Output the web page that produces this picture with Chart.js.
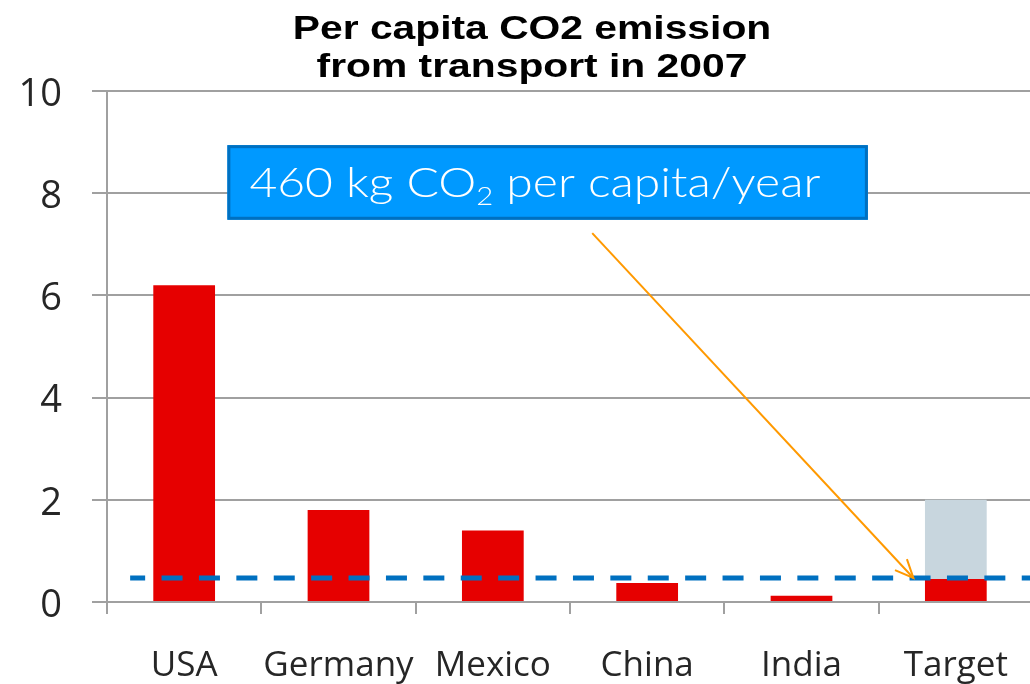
<!DOCTYPE html>
<html><head><meta charset="utf-8">
<script src="https://cdn.jsdelivr.net/npm/chart.js@4/dist/chart.umd.min.js"></script>
<style>
html,body{margin:0;padding:0;background:#fff;overflow:hidden;width:1030px;height:684px}
#wrap{position:absolute;left:0;top:0;width:1040px;height:684px}
</style></head>
<body><div id="wrap"><canvas id="c"></canvas></div>
<script>
// ---- data ----
const titleLines = ["Per capita CO2 emission", "from transport in 2007"];
const categories = ["USA", "Germany", "Mexico", "China", "India", "Target"];
const emissions = [6.2, 1.8, 1.4, 0.37, 0.12, 0.45];
const targetGap = [0, 0, 0, 0, 0, 1.55];
const targetLevel = 0.47;
const yTicks = [0, 2, 4, 6, 8, 10];
const noteParts = ["460 kg CO", "2", " per capita/year"];

// ---- annotation anchors (category index, value) ----
const noteBox = {x0: 0.28, x1: 4.43, yTop: 8.94, yBottom: 7.48};
const arrowFrom = [2.644, 7.22];
const arrowTo = [4.725, targetLevel];
const dashStartIndex = -0.35;

const overlay = {
  id: 'overlay',
  afterDatasetsDraw(chart) {
    const {ctx, chartArea, scales: {x, y}} = chart;
    ctx.save();
    // dashed target line
    const ly = y.getPixelForValue(targetLevel);
    ctx.beginPath();
    ctx.strokeStyle = '#0070C0';
    ctx.lineWidth = 5;
    ctx.setLineDash([21, 16.4]);
    ctx.lineDashOffset = 6;
    ctx.moveTo(x.getPixelForValue(dashStartIndex), ly);
    ctx.lineTo(chartArea.right + 10, ly);
    ctx.stroke();
    ctx.setLineDash([]);

    // note box
    const bx0 = x.getPixelForValue(noteBox.x0), bx1 = x.getPixelForValue(noteBox.x1);
    const by0 = y.getPixelForValue(noteBox.yTop), by1 = y.getPixelForValue(noteBox.yBottom);
    ctx.fillStyle = '#0099FF';
    ctx.fillRect(bx0, by0, bx1 - bx0, by1 - by0);
    ctx.strokeStyle = '#0070C0';
    ctx.lineWidth = 3;
    ctx.strokeRect(bx0 + 1.5, by0 + 1.5, bx1 - bx0 - 3, by1 - by0 - 3);
    // note text
    const fs = 41;
    const big = `300 ${fs}px Lato`, small = `300 ${Math.round(fs*0.6)}px Lato`;
    ctx.font = big; const w0 = ctx.measureText(noteParts[0]).width;
    const w2 = ctx.measureText(noteParts[2]).width;
    ctx.font = small; const w1 = ctx.measureText(noteParts[1]).width;
    const total = w0 + w1 + w2;
    const targetW = 571;
    const sx = targetW / total;
    const tx = bx0 + 22, base = by0 + 52;
    ctx.translate(tx, base);
    ctx.scale(sx, 1);
    ctx.fillStyle = '#ffffff';
    ctx.textBaseline = 'alphabetic';
    ctx.textAlign = 'left';
    ctx.font = big; ctx.fillText(noteParts[0], 0, 0);
    ctx.font = small; ctx.fillText(noteParts[1], w0, 8);
    ctx.font = big; ctx.fillText(noteParts[2], w0 + w1, 0);
    ctx.setTransform(1, 0, 0, 1, 0, 0);

    // arrow
    const ax0 = x.getPixelForValue(arrowFrom[0]), ay0 = y.getPixelForValue(arrowFrom[1]);
    const ax1 = x.getPixelForValue(arrowTo[0]), ay1 = y.getPixelForValue(arrowTo[1]);
    ctx.strokeStyle = '#FF9900';
    ctx.lineWidth = 2;
    ctx.beginPath(); ctx.moveTo(ax0, ay0); ctx.lineTo(ax1, ay1); ctx.stroke();
    const ang = Math.atan2(ay1 - ay0, ax1 - ax0);
    const L = 20, spread = 0.42;
    ctx.beginPath();
    ctx.moveTo(ax1 - L*Math.cos(ang - spread), ay1 - L*Math.sin(ang - spread));
    ctx.lineTo(ax1, ay1);
    ctx.lineTo(ax1 - L*Math.cos(ang + spread), ay1 - L*Math.sin(ang + spread));
    ctx.stroke();

    // title
    ctx.fillStyle = '#000000';
    ctx.font = 'bold 34px "Liberation Sans", Arial, sans-serif';
    ctx.textAlign = 'center';
    const cx = 532;
    [39, 77].forEach((b, i) => {
      ctx.setTransform(1.2, 0, 0, 1, cx, b);
      ctx.fillText(titleLines[i], 0, 0);
    });
    ctx.setTransform(1, 0, 0, 1, 0, 0);
    ctx.restore();
  }
};

new Chart(document.getElementById('c'), {
  type: 'bar',
  data: {
    labels: categories,
    datasets: [
      {label: 'Emission', data: emissions, backgroundColor: '#E60000', barPercentage: 0.4, categoryPercentage: 1},
      {label: 'Gap', data: targetGap, backgroundColor: '#C8D6DE', barPercentage: 0.4, categoryPercentage: 1}
    ]
  },
  options: {
    responsive: true,
    maintainAspectRatio: false,
    animation: false,
    layout: {padding: {top: 91, right: 7, bottom: 0, left: 0}},
    plugins: {legend: {display: false}, tooltip: {enabled: false}, title: {display: false}},
    scales: {
      x: {
        stacked: true,
        grid: {display: true, drawOnChartArea: false, drawTicks: true, tickLength: 12, color: '#A0A0A0', lineWidth: 2, offset: true},
        border: {display: true, color: '#A0A0A0', width: 2},
        ticks: {color: '#262626', font: {family: '"Open Sans"', size: 35}, padding: 31, maxRotation: 0, autoSkip: false},
        afterFit: s => { s.height = 82; }
      },
      y: {
        stacked: true,
        min: 0, max: 10,
        afterBuildTicks: s => { s.ticks = yTicks.map(v => ({value: v})); },
        grid: {color: '#A0A0A0', lineWidth: 2, drawTicks: true, tickLength: 15},
        border: {display: true, color: '#A0A0A0', width: 2},
        ticks: {color: '#262626', font: {family: '"Open Sans"', size: 38}, padding: 30, labelOffset: 4},
        afterFit: s => { s.width = 107; }
      }
    }
  },
  plugins: [overlay]
});
</script>
</body></html>
